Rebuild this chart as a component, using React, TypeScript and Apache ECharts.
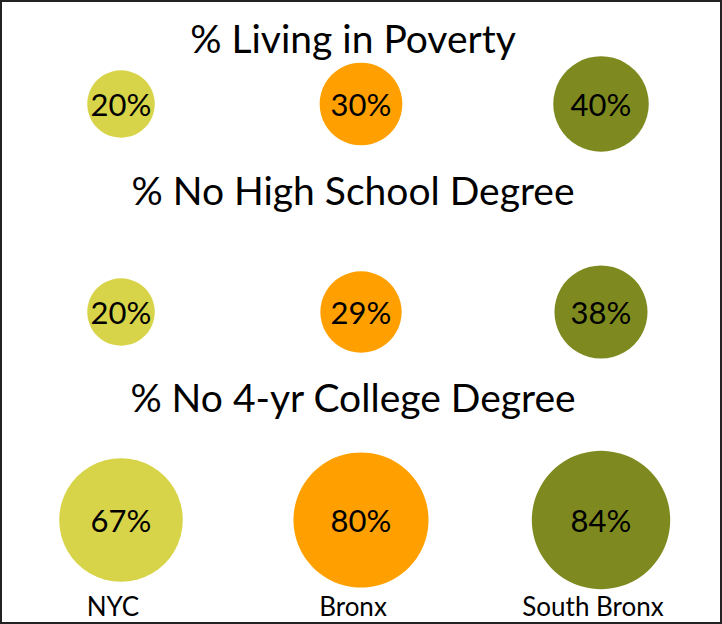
import React, { useEffect, useRef } from "react";
import * as echarts from "echarts";

const categories = ["NYC", "Bronx", "South Bronx"];
const rowTitles = ["% Living in Poverty", "% No High School Degree", "% No 4-yr College Degree"];
const poverty = [20, 30, 40];
const noHighSchool = [20, 29, 38];
const noCollege = [67, 80, 84];
const rowLevels = [3, 2, 1];
const colors = ["#D8D44A", "#FFA000", "#7E8A1F"];

export default function App() {
  const ref = useRef<HTMLDivElement>(null);
  useEffect(() => {
    document.body.style.margin = "0";
    const chart = echarts.init(ref.current!, null, { renderer: "svg" });
    const rows = [poverty, noHighSchool, noCollege];
    const font = "Lato, 'Open Sans', sans-serif";
    const series = rows.map((vals, r) => ({
      type: "scatter",
      name: rowTitles[r],
      data: vals.map((v, i) => [categories[i], rowLevels[r], v]),
      symbolSize: (val: number[]) => 15.1 * Math.sqrt(val[2]),
      itemStyle: { color: (p: any) => colors[p.dataIndex], opacity: 1 },
      label: {
        show: true,
        position: "inside",
        formatter: (p: any) => p.value[2] + "%",
        color: "#000",
        fontSize: 31,
        fontFamily: font,
      },
      emphasis: { disabled: true },
    }));
    const titleY = [38, 190, 397];
    chart.setOption({
      animation: false,
      backgroundColor: "#fff",
      grid: { left: 1, right: 1, top: 0, bottom: 0 },
      xAxis: {
        type: "category",
        data: categories,
        axisLine: { show: false },
        axisTick: { show: false },
        splitLine: { show: false },
        axisLabel: {
          inside: true,
          margin: 5,
          color: "#000",
          fontSize: 26,
          fontFamily: font,
          padding: [0, 16, 0, 0],
        },
      },
      yAxis: {
        type: "value",
        min: 0.5,
        max: 3.5,
        show: false,
      },
      graphic: [
        ...rowTitles.map((t, i) => ({
          type: "text",
          x: 353,
          y: titleY[i],
          style: {
            text: t,
            fill: "#000",
            font: `39px ${font}`,
            textAlign: "center",
            textVerticalAlign: "middle",
          },
        })),
        {
          type: "rect",
          shape: { x: 1, y: 1, width: 720, height: 622 },
          style: { fill: "none", stroke: "#222", lineWidth: 2 },
          silent: true,
        },
      ],
      series,
    });
    return () => chart.dispose();
  }, []);
  return <div ref={ref} style={{ width: 722, height: 624 }} />;
}
